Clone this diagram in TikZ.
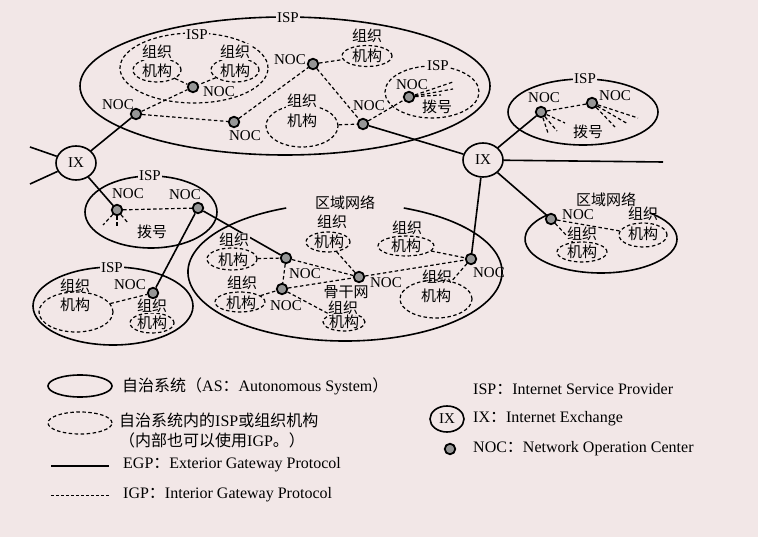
\documentclass[tikz,border=0pt]{standalone}
\usepackage{fontspec}
\setmainfont{Liberation Serif}
\newfontfamily\cjk{Noto Sans CJK SC}
\usetikzlibrary{shapes.geometric}
\definecolor{bg}{RGB}{242,231,231}
\definecolor{nocfill}{RGB}{150,150,150}
\begin{document}
\begin{tikzpicture}[x=1pt,y=-1pt,
  every node/.style={font=\fontsize{15}{17}\selectfont, inner sep=0pt},
  egp/.style={line width=1.6pt},
  igp/.style={line width=1.2pt, dash pattern=on 3.5pt off 2.5pt},
  noc/.style={circle, draw=black, line width=1.8pt, fill=nocfill, minimum size=10.5pt, inner sep=0pt},
  ix/.style={ellipse, draw, line width=1.6pt, minimum width=40pt, minimum height=34pt, inner sep=0pt},
  asell/.style={ellipse, draw, line width=1.6pt, inner sep=0pt},
  orgell/.style={ellipse, draw, igp, inner sep=0pt},
  lbl/.style={fill=bg, inner sep=1.5pt},
  legtext/.style={anchor=west, font=\fontsize{16}{18}\selectfont},
]
\fill[bg] (0,0) rectangle (758,537);
\useasboundingbox (0,0) rectangle (758,537);

% ---------- top AS ----------
\node[asell, minimum width=410pt, minimum height=138pt] (asTop) at (285,86) {};
\node[orgell, minimum width=148pt, minimum height=70pt] (ispA) at (194,68) {};
\node[orgell, minimum width=48pt, minimum height=24pt] (orgA1) at (157,70) {};
\node[orgell, minimum width=48pt, minimum height=24pt] (orgA2) at (235,70) {};
\node[noc] (nocA) at (193,87) {};
\node[noc] (nocB) at (136,114) {};
\node[noc] (nocC) at (234,122) {};
\node[noc] (nocD) at (313,64) {};
\node[orgell, minimum width=50pt, minimum height=21pt] (orgB1) at (367,56) {};
\node[noc] (nocE) at (363,124) {};
\node[orgell, minimum width=72pt, minimum height=42pt] (orgB2) at (302,126) {};
\node[orgell, minimum width=94pt, minimum height=52pt] (ispB) at (432,92) {};
\node[noc] (nocF) at (409,97) {};
\coordinate (dF1) at (453,82);
\coordinate (dF2) at (453,89);
\coordinate (dF3) at (441,95);

% ---------- IX ----------
\node[ix] (ixL) at (76,163) {IX};
\node[ix] (ixR) at (483,160) {IX};
\coordinate (exL1) at (30,147);
\coordinate (exL2) at (30,184);
\coordinate (exR) at (663,162);

% ---------- right top ISP ----------
\node[asell, minimum width=150pt, minimum height=66pt] (ispR) at (583,112) {};
\node[noc] (nocG) at (541,112) {};
\node[noc] (nocH) at (592,103) {};
\coordinate (dG1) at (548,133);
\coordinate (dG2) at (557,131);
\coordinate (dG3) at (565,123);
\coordinate (dH1) at (638,118);
\coordinate (dH2) at (628,124);
\coordinate (dH3) at (615,127);

% ---------- right region ----------
\draw[egp] (601,239) ++(310:76 and 34) arc[start angle=310, end angle=585, x radius=76, y radius=34];
\node[noc] (nocI) at (551,219) {};
\node[orgell, minimum width=50pt, minimum height=20pt] (orgC1) at (582,252) {};
\node[orgell, minimum width=48pt, minimum height=24pt] (orgC2) at (643,235) {};

% ---------- left middle ISP ----------
\node[asell, minimum width=132pt, minimum height=72pt] (ispL) at (151,212) {};
\node[noc] (nocJ) at (117,210) {};
\node[noc] (nocK) at (198,208) {};
\coordinate (dJ1) at (103,225);
\coordinate (dJ2) at (117,227);
\coordinate (dJ3) at (128,223);

% ---------- bottom left ISP ----------
\node[asell, minimum width=160pt, minimum height=78pt] (ispBL) at (113,306) {};
\node[orgell, minimum width=74pt, minimum height=40pt] (orgD1) at (76,312) {};
\node[noc] (nocL) at (153,293) {};
\node[orgell, minimum width=44pt, minimum height=20pt] (orgD2) at (152,323) {};

% ---------- central region ----------
\draw[egp] (345,272) ++(292:157 and 69) arc[start angle=292, end angle=608, x radius=157, y radius=69];
\node[noc] (nocM) at (286,258) {};
\node[noc] (nocN) at (282,289) {};
\node[noc] (nocO) at (359,277) {};
\node[noc] (nocP) at (471,259) {};
\node[orgell, minimum width=50pt, minimum height=22pt] (orgE1) at (232,259) {};
\node[orgell, minimum width=50pt, minimum height=20pt] (orgE2) at (240,302) {};
\node[orgell, minimum width=44pt, minimum height=20pt] (orgE3) at (328,242) {};
\node[orgell, minimum width=56pt, minimum height=20pt] (orgE4) at (406,246) {};
\node[orgell, minimum width=72pt, minimum height=38pt] (orgE5) at (436,299) {};
\node[orgell, minimum width=42pt, minimum height=18pt] (orgE6) at (344,322) {};

% ---------- EGP links ----------
\draw[egp] (exL1) -- (ixL);
\draw[egp] (exL2) -- (ixL);
\draw[egp] (ixL) -- (nocB);
\draw[egp] (ixL) -- (nocJ);
\draw[egp] (nocE) -- (ixR);
\draw[egp] (ixR) -- (nocG);
\draw[egp] (ixR) -- (exR);
\draw[egp] (ixR) -- (nocI);
\draw[egp] (ixR) -- (nocP);
\draw[egp] (nocK) -- (nocL);
\draw[egp] (nocK) -- (nocM);

% ---------- IGP links ----------
\draw[igp] (orgA1) -- (nocA);
\draw[igp] (orgA2) -- (nocA);
\draw[igp] (nocB) -- (nocA);
\draw[igp] (nocB) -- (nocC);
\draw[igp] (nocC) -- (nocD);
\draw[igp] (nocD) -- (orgB1);
\draw[igp] (nocD) -- (nocE);
\draw[igp] (orgB2) -- (nocE);
\draw[igp] (nocE) -- (nocF);
\draw[igp] (nocF) -- (dF1);
\draw[igp] (nocF) -- (dF2);
\draw[igp] (nocF) -- (dF3);
\draw[igp] (nocG) -- (nocH);
\draw[igp] (nocG) -- (dG1);
\draw[igp] (nocG) -- (dG2);
\draw[igp] (nocG) -- (dG3);
\draw[igp] (nocH) -- (dH1);
\draw[igp] (nocH) -- (dH2);
\draw[igp] (nocH) -- (dH3);
\draw[igp] (nocI) -- (orgC2);
\draw[igp] (nocI) -- (orgC1);
\draw[igp] (nocJ) -- (nocK);
\draw[igp] (nocJ) -- (dJ1);
\draw[igp] (nocJ) -- (dJ2);
\draw[igp] (nocJ) -- (dJ3);
\draw[igp] (orgD1) -- (nocL);
\draw[igp] (orgE1) -- (nocM);
\draw[igp] (orgE2) -- (nocN);
\draw[igp] (orgE3) -- (nocO);
\draw[igp] (orgE4) -- (nocP);
\draw[igp] (nocP) -- (orgE5);
\draw[igp] (nocN) -- (orgE6);
\draw[igp] (nocM) -- (nocO);
\draw[igp] (nocN) -- (nocO);
\draw[igp] (nocO) -- (nocP);
\draw[igp] (nocM) -- (nocN);

% ---------- labels ----------
\node[lbl] (tTopISP) at (288,18) {ISP};
\node[lbl] (tIspA) at (197,35) {ISP};
\node[lbl] (tA1a) at (157,52) {\cjk 组织};
\node (tA1b) at (157,71) {\cjk 机构};
\node[lbl] (tA2a) at (235,52) {\cjk 组织};
\node (tA2b) at (235,71) {\cjk 机构};
\node (tNocA) at (219,92) {NOC};
\node (tNocB) at (118,105) {NOC};
\node (tNocC) at (245,136) {NOC};
\node (tNocD) at (290,60) {NOC};
\node (tB1a) at (367,36) {\cjk 组织};
\node (tB1b) at (367,56) {\cjk 机构};
\node (tNocE) at (369,106) {NOC};
\node[lbl] (tB2a) at (302,101) {\cjk 组织};
\node (tB2b) at (302,121) {\cjk 机构};
\node[lbl] (tIspB) at (438,66) {ISP};
\node (tNocF) at (412,85) {NOC};
\node (tDialB) at (437,107) {\cjk 拨号};

\node[lbl] (tIspR) at (585,79) {ISP};
\node (tNocG) at (544,98) {NOC};
\node (tNocH) at (615,96) {NOC};
\node (tDialR) at (588,132) {\cjk 拨号};

\node (tRegR) at (606,200) {\cjk 区域网络};
\node (tNocI) at (578,215) {NOC};
\node[lbl, inner sep=0.5pt] (tC1a) at (582,234) {\cjk 组织};
\node (tC1b) at (582,252) {\cjk 机构};
\node (tC2a) at (643,214) {\cjk 组织};
\node (tC2b) at (643,234) {\cjk 机构};

\node[lbl] (tIspL) at (150,176) {ISP};
\node (tNocJ) at (128,194) {NOC};
\node (tNocK) at (185,195) {NOC};
\node (tDialL) at (152,232) {\cjk 拨号};

\node[lbl] (tIspBL) at (112,268) {ISP};
\node (tD1a) at (75,286) {\cjk 组织};
\node (tD1b) at (75,305) {\cjk 机构};
\node (tNocL) at (130,285) {NOC};
\node[lbl, inner sep=0.5pt] (tD2a) at (152,306) {\cjk 组织};
\node (tD2b) at (152,323) {\cjk 机构};

\node (tRegC) at (345,203) {\cjk 区域网络};
\node (tNocM) at (305,274) {NOC};
\node (tNocN) at (286,306) {NOC};
\node (tNocO) at (386,283) {NOC};
\node (tNocP) at (489,273) {NOC};
\node (tBone) at (346,292) {\cjk 骨干网};
\node[lbl, inner sep=0.5pt] (tE1a) at (234,240) {\cjk 组织};
\node (tE1b) at (233,260) {\cjk 机构};
\node[lbl, inner sep=0.5pt] (tE2a) at (242,283) {\cjk 组织};
\node (tE2b) at (241,303) {\cjk 机构};
\node (tE3a) at (332,222) {\cjk 组织};
\node (tE3b) at (329,242) {\cjk 机构};
\node (tE4a) at (407,228) {\cjk 组织};
\node (tE4b) at (406,246) {\cjk 机构};
\node (tE5a) at (437,277) {\cjk 组织};
\node (tE5b) at (436,296) {\cjk 机构};
\node[lbl, inner sep=0.5pt] (tE6a) at (343,308) {\cjk 组织};
\node (tE6b) at (344,322) {\cjk 机构};

% ---------- legend ----------
\node[asell, minimum width=64pt, minimum height=22pt] (legAS) at (80,386) {};
\node[legtext] (legASt) at (122,386) {{\cjk 自治系统（}AS{\cjk ：}Autonomous System{\cjk ）}};
\node[orgell, minimum width=64pt, minimum height=22pt] (legOrg) at (80,423) {};
\node[legtext] (legOrgt1) at (119,420) {{\cjk 自治系统内的}ISP{\cjk 或组织机构}};
\node[legtext] (legOrgt2) at (119,440) {{\cjk （内部也可以使用}IGP{\cjk 。）}};
\coordinate (egpA) at (51,466);
\coordinate (egpB) at (109,466);
\draw[egp] (egpA) -- (egpB);
\node[legtext] (legEgp) at (123,465) {EGP{\cjk ：}Exterior Gateway Protocol};
\coordinate (igpA) at (51,495);
\coordinate (igpB) at (109,495);
\draw[igp, line width=1pt, dash pattern=on 3pt off 2pt] (igpA) -- (igpB);
\node[legtext] (legIgp) at (123,495) {IGP{\cjk ：}Interior Gateway Protocol};

\node[legtext] (legIsp) at (473,389) {ISP{\cjk ：}Internet Service Provider};
\node[ix, minimum width=34pt, minimum height=26pt] (legIx) at (447,419) {IX};
\node[legtext] (legIxt) at (473,419) {IX{\cjk ：}Internet Exchange};
\node[noc] (legNoc) at (450,449) {};
\node[legtext] (legNoct) at (473,449) {NOC{\cjk ：}Network Operation Center};
\end{tikzpicture}
\end{document}
